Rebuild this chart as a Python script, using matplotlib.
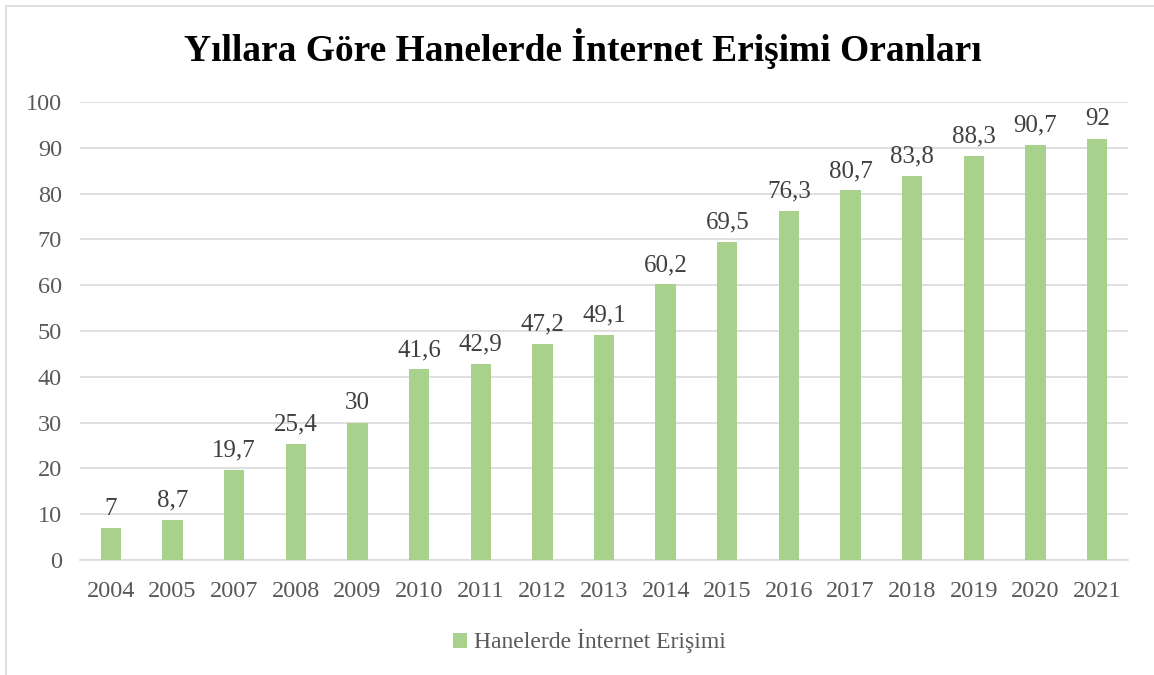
import matplotlib
matplotlib.use("Agg")
import matplotlib.pyplot as plt
from matplotlib.patches import Rectangle

# --- Veriler ---
yillar = ['2004', '2005', '2007', '2008', '2009', '2010', '2011', '2012', '2013',
          '2014', '2015', '2016', '2017', '2018', '2019', '2020', '2021']
oranlar = [7, 8.7, 19.7, 25.4, 30, 41.6, 42.9, 47.2, 49.1,
           60.2, 69.5, 76.3, 80.7, 83.8, 88.3, 90.7, 92]
seri_adi = 'Hanelerde İnternet Erişimi'
baslik = 'Yıllara Göre Hanelerde İnternet Erişimi Oranları'
y_ticks = list(range(0, 101, 10))

plt.rcParams['font.family'] = ['Liberation Serif', 'DejaVu Serif']

fig = plt.figure(figsize=(11.54, 6.75), dpi=100)
ax = fig.add_axes([0.0693, 0.1704, 0.9082, 0.6785])

# çerçeve
fig.patches.append(Rectangle((0.0055, -0.01), 1.2, 1.0011, transform=fig.transFigure,
                             fill=False, edgecolor='#d9d9d9', linewidth=1.2))

x = range(len(yillar))
barlar = ax.bar(x, oranlar, width=0.33, color='#a9d18e', label=seri_adi, zorder=3)

for xi, v in zip(x, oranlar):
    etiket = f'{v:g}'.replace('.', ',')
    ax.text(xi, v + 1.8, etiket, ha='center', va='bottom', fontsize=18, color='#404040')

ax.set_xlim(-0.5, len(yillar) - 0.5)
ax.set_ylim(0, 100)
ax.set_yticks(y_ticks)
ax.set_xticks(list(x))
ax.set_xticklabels(yillar)
ax.tick_params(axis='both', length=0, labelsize=17.5, labelcolor='#595959')
ax.tick_params(axis='x', pad=15)
ax.tick_params(axis='y', pad=13)
ax.grid(axis='y', color='#d9d9d9', linewidth=1.2, zorder=0)
for s in ['top', 'right', 'left']:
    ax.spines[s].set_visible(False)
ax.spines['bottom'].set_color('#d9d9d9')
ax.spines['bottom'].set_linewidth(1.2)

fig.text(0.505, 0.928, baslik, ha='center', va='center', fontsize=27,
         fontweight='bold', color='black')

leg = fig.legend(handles=[barlar], labels=[seri_adi], loc='center',
                 bbox_to_anchor=(0.511, 0.05), frameon=False, fontsize=17,
                 handlelength=0.6, handleheight=0.6, handletextpad=0.3)
for t in leg.get_texts():
    t.set_color('#595959')

fig.savefig('out.png', dpi=100)
